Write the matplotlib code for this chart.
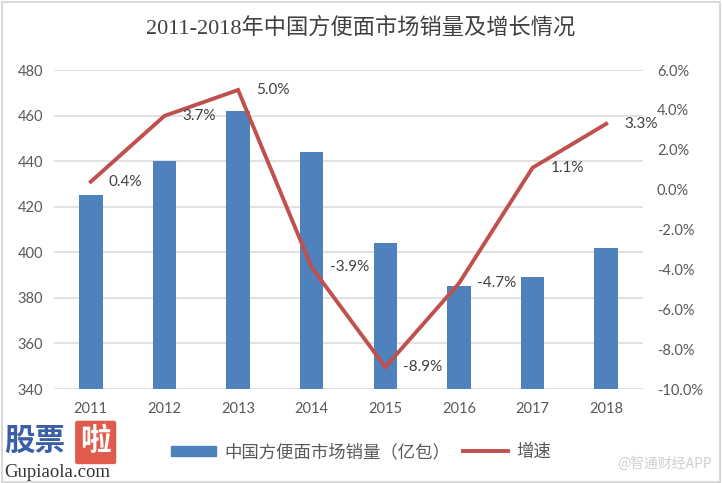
import matplotlib
matplotlib.use("Agg")
import matplotlib.pyplot as plt
from matplotlib.patches import Rectangle, FancyBboxPatch
from matplotlib.lines import Line2D
import numpy as np

years = ["2011", "2012", "2013", "2014", "2015", "2016", "2017", "2018"]
sales = [425, 440, 462, 444, 404, 385, 389, 402]
growth = [0.4, 3.7, 5.0, -3.9, -8.9, -4.7, 1.1, 3.3]
left_ticks = [340, 360, 380, 400, 420, 440, 460, 480]
right_ticks = [-10, -8, -6, -4, -2, 0, 2, 4, 6]

title = "2011-2018年中国方便面市场销量及增长情况"
bar_label = "中国方便面市场销量（亿包）"
line_label = "增速"

plt.rcParams['font.family'] = ['Lato', 'Noto Sans CJK SC', 'DejaVu Sans']
CJK = ['Noto Sans CJK SC', 'DejaVu Sans']
txt = '#595959'
bar_c = '#4F81BD'
line_c = '#C0504D'

fig = plt.figure(figsize=(7.22, 4.83), dpi=100)
ax = fig.add_axes([0.0748, 0.1946, 0.8158, 0.6604])
x = np.arange(len(years))
ax.bar(x, sales, width=0.32, color=bar_c, zorder=2)
ax.set_ylim(340, 480)
ax.set_yticks(left_ticks)
ax.set_xlim(-0.5, len(years) - 0.5)
ax.set_xticks(x)
ax.set_xticklabels(years)
ax.grid(axis='y', color='#D9D9D9', lw=1.1, zorder=0)
ax.set_axisbelow(True)
for s in ax.spines.values():
    s.set_visible(False)
ax.tick_params(axis='both', length=0, labelsize=10.5, labelcolor=txt)
ax.tick_params(axis='y', pad=8)
ax.tick_params(axis='x', pad=9)

ax2 = ax.twinx()
ax2.plot(x, growth, color=line_c, lw=2.8, solid_joinstyle='miter', zorder=3)
ax2.set_ylim(-10, 6)
ax2.set_yticks(right_ticks)
ax2.set_yticklabels([f"{v:.1f}%" for v in right_ticks])
for s in ax2.spines.values():
    s.set_visible(False)
ax2.tick_params(axis='y', length=0, labelsize=10.5, labelcolor=txt, pad=10)
for xi, g in zip(x, growth):
    ax2.annotate(f"{g:.1f}%", (xi, g), xytext=(13, 0), textcoords='offset points',
                 ha='left', va='center', fontsize=11, color='#404040')

fig.text(0.5, 0.942, title, ha='center', va='center', fontsize=16,
         color='#404040', family=['Liberation Serif', 'Noto Sans CJK SC'])

handles = [Rectangle((0, 0), 1, 1, color=bar_c), Line2D([0], [0], color=line_c, lw=2.8)]
leg = fig.legend(handles, [bar_label, line_label], loc='center', bbox_to_anchor=(0.5, 0.064),
                 ncol=2, frameon=False, handlelength=2.6, handleheight=0.55, handletextpad=0.5,
                 columnspacing=0.7, prop={'family': CJK, 'size': 12.5})
for t in leg.get_texts():
    t.set_color(txt)

# watermark logo
fig.text(0.006, 0.088, "股票", fontsize=22, color='#3A5FA8', weight='bold',
         family=CJK, ha='left', va='center')
fig.patches.append(FancyBboxPatch((0.108, 0.043), 0.049, 0.082, boxstyle="round,pad=0.004",
                                  transform=fig.transFigure, facecolor='#E05A4E', edgecolor='none'))
fig.text(0.1325, 0.086, "啦", fontsize=22, color='white', weight='bold',
         family=CJK, ha='center', va='center')
fig.text(0.006, 0.022, "Gupiaola.com", fontsize=13.5, color='#333333',
         family=['Liberation Serif'], ha='left', va='center')
fig.text(0.986, 0.04, "@智通财经APP", fontsize=10, color='#CFCFCF', family=CJK,
         ha='right', va='center')

fig.patches.append(Rectangle((0.003, 0.003), 0.994, 0.992, transform=fig.transFigure,
                             fill=False, edgecolor='#D9D9D9', lw=1.5))

fig.savefig("out.png", dpi=100, facecolor='white')
